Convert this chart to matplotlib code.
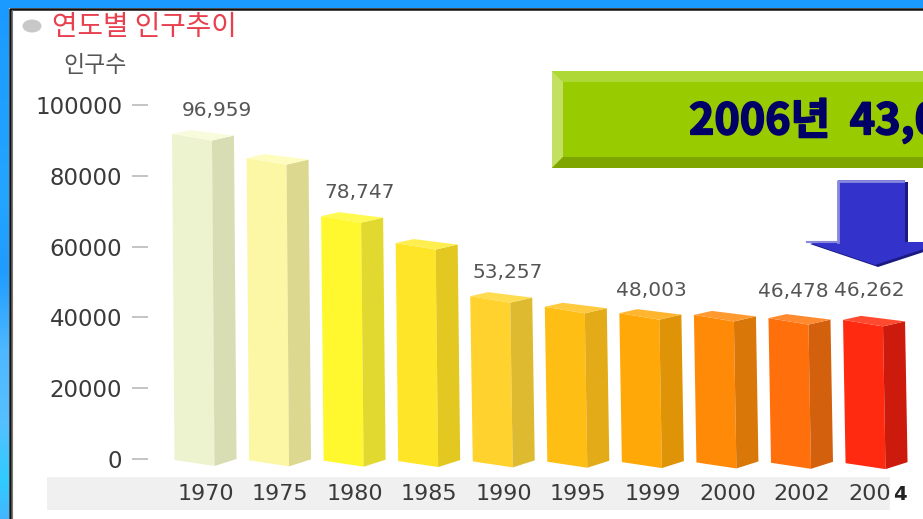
import numpy as np
import matplotlib
matplotlib.use('Agg')
import matplotlib.pyplot as plt
from matplotlib.patches import Polygon, Rectangle, Ellipse
import matplotlib.patheffects as pe

# Data
years = ['1970', '1975', '1980', '1985', '1990', '1995', '1999', '2000', '2002', '2004']
heights = [91800, 85000, 68600, 61000, 46000, 43000, 41200, 40700, 39800, 39300]
yticks = [0, 20000, 40000, 60000, 80000, 100000]
label_idx = [0, 2, 4, 6, 8, 9]
label_text = ['96,959', '78,747', '53,257', '48,003', '46,478', '46,262']

front_colors = ['#EEF3CF', '#FCF7A4', '#FFF82F', '#FFE528', '#FFD22E',
                '#FFBE14', '#FFA808', '#FF8A08', '#FF700C', '#FF2A10']
side_colors = ['#D8DDB4', '#DCD88F', '#E2D930', '#E2C820', '#DDBA30',
               '#E3AB18', '#DF9408', '#D97808', '#D2600C', '#CC1A0C']
top_colors = ['#F8FBDC', '#FFFCC0', '#FFF950', '#FFEE50', '#FFDB50',
              '#FFC940', '#FFB530', '#FF9A30', '#FF8A30', '#FF4A30']

W, H = 923, 519
KR = ['Noto Sans CJK KR', 'DejaVu Sans']
PX_X = 74.56          # pixels per category
PX_Y = 3.54 / 1000    # pixels per person

fig = plt.figure(figsize=(W / 100, H / 100), dpi=100)

# background layer, in pixel coordinates
bg = fig.add_axes([0, 0, 1, 1], zorder=0)
bg.set_xlim(0, W)
bg.set_ylim(H, 0)
bg.axis('off')
stops_y = [0, 200, 270, 350, 420, 480, 519]
stops_c = np.array([[26, 154, 255], [36, 165, 255], [30, 156, 255], [77, 184, 255],
                    [85, 192, 255], [47, 203, 255], [68, 181, 255]]) / 255
rows = np.arange(H)
grad = np.stack([np.interp(rows, stops_y, stops_c[:, k]) for k in range(3)], axis=1)
bg.imshow(grad[:, None, :], extent=[0, W, H, 0], aspect='auto', zorder=0)
bg.add_patch(Rectangle((9, 8), W, H, fc='white', ec='none', zorder=1))
bg.plot([10, 10, W], [H, 9, 9], color='#111111', lw=1.8, zorder=2)
bg.plot([11.5, 11.5], [10, H], color='#777777', lw=0.8, zorder=2)

bg.add_patch(Ellipse((32, 26), 19, 13, fc='#C8C8C8', ec='none', zorder=2))
bg.text(52, 27, '연도별 인구추이', color='#E8404F', fontsize=20, family=KR, va='center', ha='left', zorder=3)
bg.text(63, 66, '인구수', color='#555555', fontsize=16.5, family=KR, va='center', ha='left', zorder=3)
bg.add_patch(Rectangle((47, 477), 843, 33, fc='#F0F0F0', ec='none', zorder=1))

# chart layer
ax = fig.add_axes([148 / W, (H - 459) / H, (W - 148) / W, 354 / H], zorder=1)
ax.patch.set_alpha(0)
ax.set_xlim((148 - 172) / PX_X, (W - 172) / PX_X)
ax.set_ylim(0, 100000)
for s in ax.spines.values():
    s.set_visible(False)


def bar3d(i, value):
    # pseudo 3d box, offsets are in pixels
    x = lambda p: i + p / PX_X
    y = lambda p: value - p / PX_Y
    base = lambda p: -(1 + 0.35 * i + p) / PX_Y
    lean = 2.5
    front = [(x(0), y(0)), (x(40), y(6.5)), (x(40 + lean), base(6)), (x(lean), base(0))]
    side = [(x(40), y(6.5)), (x(62), y(1.5)), (x(62 + lean), base(-1)), (x(40 + lean), base(6))]
    top = [(x(0), y(0)), (x(18), y(-4)), (x(62), y(1.5)), (x(40), y(6.5))]
    ax.add_patch(Polygon(front, fc=front_colors[i], ec='none', clip_on=False))
    ax.add_patch(Polygon(side, fc=side_colors[i], ec='none', clip_on=False))
    ax.add_patch(Polygon(top, fc=top_colors[i], ec='none', clip_on=False))


for i, h in enumerate(heights):
    bar3d(i, h)

# value labels, offset from the top left corner of each bar (points)
label_dx = [32, 28, 27, 23, 18, 19]
label_dy = [17, 17, 17, 16, 19, 21]
for n, i in enumerate(label_idx):
    ax.annotate(label_text[n], xy=(i, heights[i]), xytext=(label_dx[n], label_dy[n]),
                textcoords='offset points', ha='center', va='center',
                fontsize=14.5, color='#555555', annotation_clip=False)

ax.set_yticks(yticks)
ax.set_yticklabels([str(v) for v in yticks], fontsize=16.5, color='#3A3A3A')
ax.tick_params(axis='y', length=11.5, width=1.4, color='#C4C4C4', pad=7)
ax.set_xticks(np.arange(len(years)) + 0.45)
ax.set_xticklabels(years, fontsize=16, color='#3A3A3A')
ax.tick_params(axis='x', length=0, pad=18)

# callout layer
top = fig.add_axes([0, 0, 1, 1], zorder=2)
top.set_xlim(0, W)
top.set_ylim(H, 0)
top.axis('off')
top.patch.set_alpha(0)

L, T, B, R, b = 552, 71, 168, W + 20, 11
top.add_patch(Rectangle((L, T), R - L, B - T, fc='#99CC00', ec='none'))
top.add_patch(Polygon([(L, T), (R, T), (R, T + b), (L + b, T + b)], fc='#AED836', ec='none'))
top.add_patch(Polygon([(L, T), (L + b, T + b), (L + b, B - b), (L, B)], fc='#C3E063', ec='none'))
top.add_patch(Polygon([(L, B), (L + b, B - b), (R, B - b), (R, B)], fc='#7FA600', ec='none'))
top.text(689, 121, '2006년  43,0', color='#000066', fontsize=31, fontweight='bold', family=KR,
         va='center', ha='left', clip_on=True,
         path_effects=[pe.withStroke(linewidth=1.2, foreground='#000066')])

# block arrow pointing down
shaft = [(838, 180), (905, 180), (905, 242), (945, 242), (875, 265), (807, 242), (838, 242)]
top.add_patch(Polygon([(px + 3, py + 2) for px, py in shaft], fc='#1A1A80', ec='none'))
top.add_patch(Polygon(shaft, fc='#3333CC', ec='none'))
top.plot([838, 838, 903], [242, 181, 181], color='#8888DD', lw=2)
top.plot([807, 838], [242, 242], color='#8888DD', lw=1.5)

# patch over the last year label
top.add_patch(Rectangle((890, 478), 30, 32, fc='white', ec='none'))
top.text(900, 494, '4', color='#222222', fontsize=14, fontweight='bold', ha='center', va='center')

fig.savefig('out.png', dpi=100)
